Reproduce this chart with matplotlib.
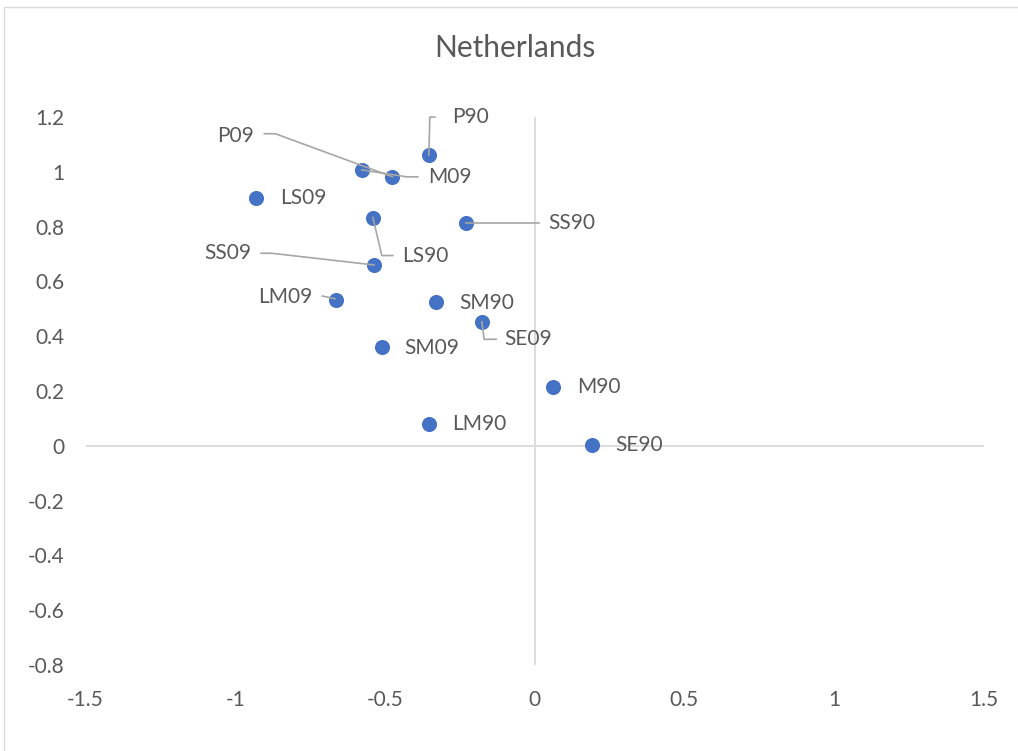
import matplotlib
matplotlib.use("Agg")
import matplotlib.pyplot as plt
from matplotlib.lines import Line2D
from matplotlib.transforms import IdentityTransform

# ---- data ----
labels = ["P90", "P09", "M09", "LS09", "LS90", "SS90", "SS09",
          "LM09", "SM90", "SE09", "SM09", "M90", "LM90", "SE90"]
x_vals = [-0.353, -0.475, -0.577, -0.930, -0.540, -0.230, -0.536,
          -0.663, -0.328, -0.176, -0.510, 0.061, -0.351, 0.193]
y_vals = [1.061, 0.982, 1.007, 0.903, 0.833, 0.814, 0.660,
          0.532, 0.524, 0.453, 0.360, 0.214, 0.080, 0.004]
x_ticks = [-1.5, -1, -0.5, 0, 0.5, 1, 1.5]
x_tick_labels = ["-1.5", "-1", "-0.5", "0", "0.5", "1", "1.5"]
y_ticks = [-0.8, -0.6, -0.4, -0.2, 0, 0.2, 0.4, 0.6, 0.8, 1, 1.2]
y_tick_labels = ["-0.8", "-0.6", "-0.4", "-0.2", "0", "0.2", "0.4",
                 "0.6", "0.8", "1", "1.2"]
title = "Netherlands"

# label placement (pixel offsets from point, image y downward) and leaders
label_offsets = {
    "P90": (23, -38, "left"), "P09": (-138, -41, "right"),
    "M09": (66, 7, "left"), "LS09": (24, 0, "left"),
    "LS90": (29.6, 38, "left"), "SS90": (82.6, 0, "left"),
    "SS09": (-122.3, -11.7, "right"), "LM09": (-23.7, -3.3, "right"),
    "SM90": (22.7, 1, "left"), "SE09": (22.6, 17.6, "left"),
    "SM09": (22.6, 1, "left"), "M90": (24, 0, "left"),
    "LM90": (23, 0, "left"), "SE90": (22.7, 0, "left"),
}
leaders = {
    "P90": [(0, 0), (1, -38), (6, -38)],
    "P09": [(0, 0), (-117, -43), (-128, -43)],
    "M09": [(0, 0), (45, 7), (56, 7)],
    "LS90": [(0, 0), (9, 38), (20, 38)],
    "SS90": [(0, 0), (73.6, 0)],
    "SS09": [(0, 0), (-102.3, -11.7), (-113, -11.7)],
    "LM09": [(-1, -1.3), (-13.7, -4)],
    "SE09": [(0, 0), (2.3, 17.6), (14.3, 17.6)],
}

W, H, DPI = 1018, 751, 100
TEXT = "#595959"
AXIS = "#D9D9D9"
LEAD = "#A6A6A6"
BLUE = "#4472C4"
FONT = "Lato"

plt.rcParams["font.family"] = [FONT, "DejaVu Sans"]

fig = plt.figure(figsize=(W / DPI, H / DPI), dpi=DPI)
left, right = 85.5 / W, 983.5 / W
top, bottom = 1 - 117 / H, 1 - 665 / H
ax = fig.add_axes([left, bottom, right - left, top - bottom])

ax.set_xlim(-1.5, 1.5)
ax.set_ylim(-0.8, 1.2)
for s in ax.spines.values():
    s.set_visible(False)
ax.axhline(0, color=AXIS, lw=1.3, zorder=1)
ax.axvline(0, color=AXIS, lw=1.3, zorder=1)

ax.set_xticks(x_ticks)
ax.set_xticklabels(x_tick_labels)
ax.set_yticks(y_ticks)
ax.set_yticklabels(y_tick_labels)
ax.tick_params(axis="both", length=0, labelsize=15, labelcolor=TEXT)
ax.tick_params(axis="x", pad=18)
ax.tick_params(axis="y", pad=15)

ax.scatter(x_vals, y_vals, s=118, color=BLUE, zorder=3, linewidths=0)

fig.canvas.draw()
for lab, xv, yv in zip(labels, x_vals, y_vals):
    dx, dy, ha = label_offsets[lab]
    ax.annotate(lab, xy=(xv, yv), xytext=(dx, -dy), textcoords="offset pixels",
                ha=ha, va="center", fontsize=15, color=TEXT, zorder=5)
    if lab in leaders:
        px, py = ax.transData.transform((xv, yv))
        xs = [px + a for a, b in leaders[lab]]
        ys = [py - b for a, b in leaders[lab]]
        fig.add_artist(Line2D(xs, ys, transform=IdentityTransform(),
                              color=LEAD, lw=1.2, zorder=4))

fig.text(0.5055, 1 - 48 / H, title, ha="center", va="center",
         fontsize=21.5, color=TEXT)

# chart border (top and left visible)
fig.add_artist(Line2D([4, 4, W], [0, H - 7, H - 7], transform=IdentityTransform(),
                      color=AXIS, lw=1.0))

fig.savefig("out.png", dpi=DPI)
